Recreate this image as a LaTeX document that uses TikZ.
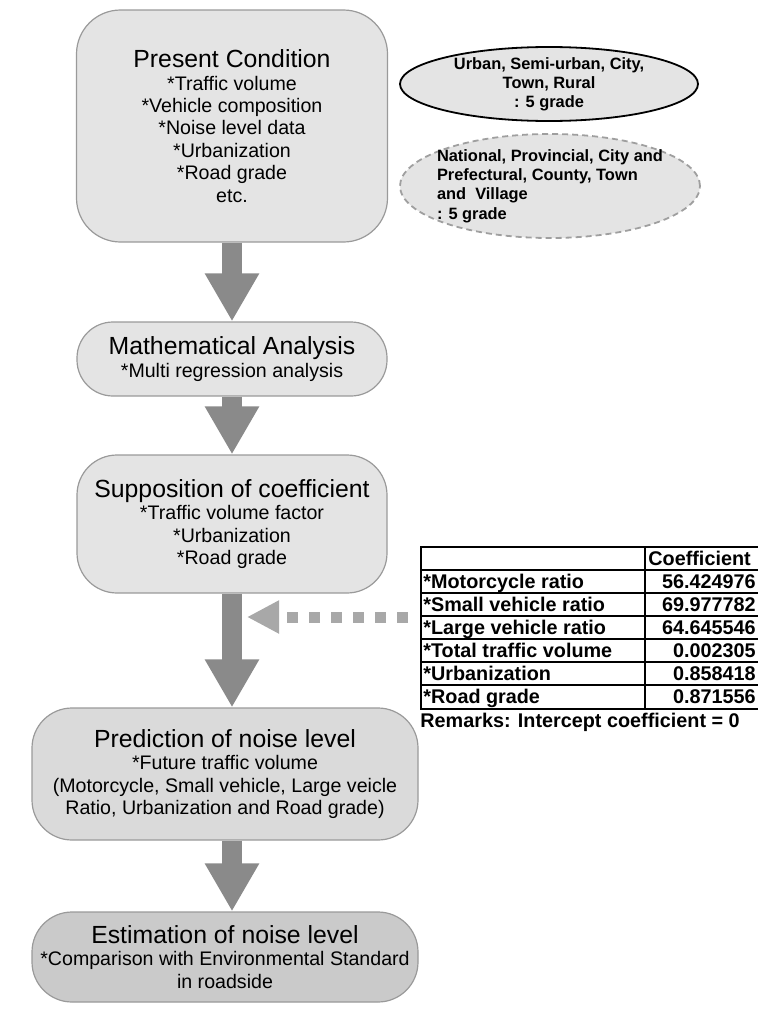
\documentclass[tikz,border=0pt]{standalone}
\usepackage{fontspec}
\setmainfont{Liberation Sans}
\usetikzlibrary{arrows.meta,shapes.geometric}
\definecolor{paleface}{HTML}{E4E4E4}
\definecolor{midface}{HTML}{DADADA}
\definecolor{darkface}{HTML}{CACACA}
\definecolor{rimgray}{HTML}{9A9A9A}
\definecolor{flowgray}{HTML}{8A8A8A}
\definecolor{feedgray}{HTML}{A8A8A8}
\newcommand{\stagetitle}[1]{{\fontsize{12.4}{14}\selectfont #1}}
\begin{document}
\begin{tikzpicture}[x=0.5pt, y=-0.5pt,
    stage/.style={draw=rimgray, line width=0.6pt, rounded corners=20pt, align=center,
      inner sep=0pt, font=\fontsize{9.8}{11.2}\selectfont},
    flow/.style={draw=flowgray, line width=10pt, -{Triangle[length=24pt, width=25.5pt]}},
    feed/.style={draw=feedgray, line width=5.5pt, dash pattern=on 5.5pt off 5.5pt,
      -{Triangle[length=16pt, width=15.5pt]}},
    tag/.style={ellipse, fill=paleface, inner xsep=-8pt, inner ysep=-4pt, line width=0.9pt,
      font=\fontsize{8.2}{9.6}\selectfont\bfseries},
    cell/.style={inner sep=0pt, font=\fontsize{9.9}{10}\selectfont\bfseries}]
  \useasboundingbox (0,0) rectangle (757,1012);

  % flow of the study
  \node[stage, fill=paleface, minimum width=155.5pt, minimum height=116pt, rounded corners=22pt]
    (present) at (232,126) {\stagetitle{Present Condition}\\ *Traffic volume\\ *Vehicle composition\\
      *Noise level data\\ *Urbanization\\ *Road grade\\ etc.};
  \node[stage, fill=paleface, minimum width=155pt, minimum height=37pt, rounded corners=18pt]
    (math) at (232,359) {\stagetitle{Mathematical Analysis}\\ *Multi regression analysis};
  \node[stage, fill=paleface, minimum width=155pt, minimum height=69pt]
    (supp) at (232,524) {\stagetitle{Supposition of coefficient}\\ *Traffic volume factor\\
      *Urbanization\\ *Road grade};
  \node[stage, fill=midface, minimum width=193pt, minimum height=66pt]
    (pred) at (225,774) {\stagetitle{Prediction of noise level}\\ *Future traffic volume\\
      (Motorcycle, Small vehicle, Large veicle\\ Ratio, Urbanization and Road grade)};
  \node[stage, fill=darkface, minimum width=193pt, minimum height=45pt]
    (est) at (225,957) {\stagetitle{Estimation of noise level}\\
      *Comparison with Environmental Standard\\ in roadside};

  \draw[flow] (present.south) -- (present.south |- math.north);
  \draw[flow] (math.south) -- (math.south |- supp.north);
  \draw[flow] (supp.south) -- (supp.south |- pred.north);
  \draw[flow] (supp.south |- pred.south) -- (supp.south |- est.north);

  % side notes
  \node[tag, draw=black, minimum width=149pt, minimum height=37pt, align=center]
    (zone) at (549,84) {Urban, Semi-urban, City,\\ Town, Rural\\ : 5 grade};
  \node[tag, draw=gray!75, dash pattern=on 3pt off 2pt, minimum width=150pt, minimum height=52pt,
    align=left]
    (rank) at (550,186) {National, Provincial, City and\\ Prefectural, County, Town\\
      and~~Village\\ : 5 grade};

  % coefficient table
  \node[draw, line width=1.1pt, minimum width=175pt, minimum height=81pt, inner sep=0pt,
    anchor=north west] (coef) at (420,546) {};
  \draw[line width=1.1pt] (645,546) -- (645,708);
  \foreach \y in {570,593,...,685}
    \draw[line width=0.9pt] (420,\y) -- (770,\y);
  \node[cell, anchor=base west] (head) at (648,565) {Coefficient};
  \foreach \lbl/\val [count=\i] in {*Motorcycle ratio/56.424976, *Small vehicle ratio/69.977782,
      *Large vehicle ratio/64.645546, *Total traffic volume/0.002305,
      *Urbanization/0.858418, *Road grade/0.871556} {
    \node[cell, anchor=base west] (row\i) at (423,565+23*\i) {\lbl};
    \node[cell, anchor=base east] (val\i) at (756,565+23*\i) {\val};
  }
  \node[cell, anchor=base west] (remark) at (420,727) {Remarks: Intercept coefficient = 0};

  \coordinate (hit) at (247,617);
  \draw[feed, shorten <=6pt] (coef.west |- hit) -- (hit);
\end{tikzpicture}
\end{document}
